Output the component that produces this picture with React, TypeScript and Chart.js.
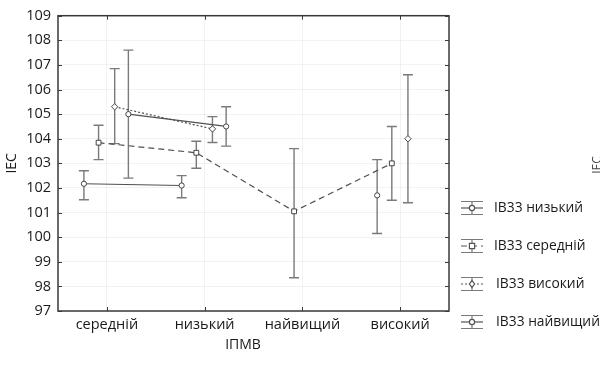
import React, { useEffect, useRef } from "react";
import { Chart, registerables } from "chart.js";

Chart.register(...registerables);

const categories = ["середній", "низький", "найвищий", "високий"];
const seriesNames = ["IB33 низький", "IB33 середній", "IB33 високий", "IB33 найвищий"];

const meanLow = [102.17, 102.1, null, 101.7];
const meanMid = [103.84, 103.43, 101.05, 103.0];
const meanHigh = [105.3, 104.4, null, 104.0];
const meanTop = [105.0, 104.5, null, null];

const lowLow = [101.52, 101.6, null, 100.15];
const lowMid = [103.15, 102.8, 98.35, 101.5];
const lowHigh = [103.8, 103.85, null, 101.4];
const lowTop = [102.4, 103.7, null, null];

const highLow = [102.7, 102.5, null, 103.15];
const highMid = [104.55, 103.9, 103.6, 104.5];
const highHigh = [106.85, 104.9, null, 106.6];
const highTop = [107.6, 105.3, null, null];

const yTicks = [97, 98, 99, 100, 101, 102, 103, 104, 105, 106, 107, 108, 109];
const xTitle = "IПМВ";
const yTitle = "IEC";

const means = [meanLow, meanMid, meanHigh, meanTop];
const lows = [lowLow, lowMid, lowHigh, lowTop];
const highs = [highLow, highMid, highHigh, highTop];

const OFFSETS = [-0.235, -0.085, 0.08, 0.22];
const DASHES: number[][] = [[], [6, 4], [2, 2], []];
const POINT_STYLES = ["circle", "rect", "rectRot", "circle"];
const POINT_RADII = [2.6, 3.4, 3.2, 2.6];
const FONT = '"Open Sans", sans-serif';

const errorBarPlugin = {
  id: "errorBars",
  beforeDatasetsDraw(chart: any) {
    const { ctx, scales } = chart;
    const xs = scales.x, ys = scales.y;
    ctx.save();
    ctx.strokeStyle = "#7a7a7a";
    ctx.lineWidth = 1.4;
    means.forEach((m, si) => {
      m.forEach((v, i) => {
        if (v == null) return;
        const lo = lows[si][i], hi = highs[si][i];
        if (lo == null || hi == null) return;
        const px = xs.getPixelForValue(i + OFFSETS[si]);
        const pLo = ys.getPixelForValue(lo);
        const pHi = ys.getPixelForValue(hi);
        ctx.beginPath();
        ctx.moveTo(px, pLo);
        ctx.lineTo(px, pHi);
        ctx.moveTo(px - 5, pLo);
        ctx.lineTo(px + 5, pLo);
        ctx.moveTo(px - 5, pHi);
        ctx.lineTo(px + 5, pHi);
        ctx.stroke();
      });
    });
    ctx.restore();
  },
};

const framePlugin = {
  id: "frame",
  afterDraw(chart: any) {
    const { ctx, chartArea: a, scales } = chart;
    ctx.save();
    ctx.strokeStyle = "#3a3a3a";
    ctx.lineWidth = 1.5;
    ctx.strokeRect(a.left, a.top, a.right - a.left, a.bottom - a.top);
    ctx.lineWidth = 1;
    ctx.beginPath();
    yTicks.forEach((t) => {
      const py = Math.round(scales.y.getPixelForValue(t)) + 0.5;
      ctx.moveTo(a.left, py);
      ctx.lineTo(a.left + 4, py);
      ctx.moveTo(a.right, py);
      ctx.lineTo(a.right - 4, py);
    });
    categories.forEach((_, i) => {
      const px = Math.round(scales.x.getPixelForValue(i)) + 0.5;
      ctx.moveTo(px, a.bottom);
      ctx.lineTo(px, a.bottom - 4);
      ctx.moveTo(px, a.top);
      ctx.lineTo(px, a.top + 4);
    });
    ctx.stroke();

    ctx.fillStyle = "#1a1a1a";
    ctx.font = `14px ${FONT}`;
    ctx.textAlign = "center";
    ctx.textBaseline = "middle";
    ctx.fillText(xTitle, 243, 345);
    ctx.save();
    ctx.translate(12, (a.top + a.bottom) / 2);
    ctx.rotate(-Math.PI / 2);
    ctx.fillText(yTitle, 0, 0);
    ctx.restore();

    ctx.save();
    ctx.fillStyle = "#444";
    ctx.font = `12px ${FONT}`;
    ctx.translate(601, 165);
    ctx.rotate(-Math.PI / 2);
    ctx.textBaseline = "alphabetic";
    ctx.fillText(yTitle, 0, 0);
    ctx.restore();

    seriesNames.forEach((name, si) => {
      const cy = 208 + si * 38;
      const x0 = 461, x1 = 483, cx = 472;
      ctx.strokeStyle = "#7a7a7a";
      ctx.lineWidth = 1.2;
      ctx.setLineDash([]);
      ctx.beginPath();
      ctx.moveTo(x0, cy - 6.5);
      ctx.lineTo(x1, cy - 6.5);
      ctx.moveTo(x0, cy + 6.5);
      ctx.lineTo(x1, cy + 6.5);
      ctx.moveTo(cx, cy - 6.5);
      ctx.lineTo(cx, cy + 6.5);
      ctx.stroke();
      ctx.strokeStyle = "#555";
      ctx.setLineDash(DASHES[si]);
      ctx.beginPath();
      ctx.moveTo(x0, cy);
      ctx.lineTo(x1, cy);
      ctx.stroke();
      ctx.setLineDash([]);
      ctx.fillStyle = "#fff";
      ctx.strokeStyle = "#555";
      ctx.beginPath();
      const r = 2.6;
      if (POINT_STYLES[si] === "rect") {
        ctx.rect(cx - r, cy - r, 2 * r, 2 * r);
      } else if (POINT_STYLES[si] === "rectRot") {
        ctx.moveTo(cx, cy - r - 0.8);
        ctx.lineTo(cx + r, cy);
        ctx.lineTo(cx, cy + r + 0.8);
        ctx.lineTo(cx - r, cy);
        ctx.closePath();
      } else {
        ctx.arc(cx, cy, r, 0, Math.PI * 2);
      }
      ctx.fill();
      ctx.stroke();
      ctx.fillStyle = "#1a1a1a";
      ctx.font = `13.8px ${FONT}`;
      ctx.textAlign = "left";
      ctx.textBaseline = "middle";
      ctx.fillText(name, si < 2 ? 494 : 496, cy);
    });
    ctx.restore();
  },
};

export default function App() {
  const ref = useRef<HTMLCanvasElement | null>(null);
  useEffect(() => {
    document.body.style.margin = "0";
    const canvas = ref.current;
    if (!canvas) return;
    const chart = new Chart(canvas, {
      type: "line",
      data: {
        datasets: means.map((m, si) => ({
          label: seriesNames[si],
          data: categories.map((_, i) => ({ x: i + OFFSETS[si], y: m[i] as any })),
          borderColor: "#505050",
          borderWidth: 1.2,
          borderDash: DASHES[si],
          pointStyle: POINT_STYLES[si] as any,
          pointRadius: POINT_RADII[si],
          pointBackgroundColor: "#fff",
          pointBorderColor: "#444",
          pointBorderWidth: 1,
          spanGaps: false,
          fill: false,
        })),
      },
      options: {
        responsive: false,
        animation: false,
        events: [],
        layout: { padding: { top: 14, right: 151, left: 0, bottom: 0 } },
        plugins: { legend: { display: false }, tooltip: { enabled: false } },
        scales: {
          x: {
            type: "linear",
            min: -0.5,
            max: 3.5,
            afterBuildTicks: (s: any) => {
              s.ticks = categories.map((_, i) => ({ value: i }));
            },
            afterFit: (s: any) => {
              s.height = 58;
            },
            ticks: {
              autoSkip: false,
              maxRotation: 0,
              padding: 5,
              color: "#1a1a1a",
              font: { family: FONT, size: 14.5 },
              callback: (v: any) => categories[v as number] ?? "",
            },
            grid: { color: "rgba(0,0,0,0.05)", drawTicks: false },
            border: { display: false },
          },
          y: {
            min: 97,
            max: 109,
            afterBuildTicks: (s: any) => {
              s.ticks = yTicks.map((v) => ({ value: v }));
            },
            afterFit: (s: any) => {
              s.width = 58;
            },
            ticks: {
              padding: 7,
              color: "#1a1a1a",
              font: { family: FONT, size: 14.5 },
            },
            grid: { color: "rgba(0,0,0,0.05)", drawTicks: false },
            border: { display: false },
          },
        },
      },
      plugins: [errorBarPlugin, framePlugin],
    });
    return () => chart.destroy();
  }, []);
  return (
    <div style={{ width: 600, height: 369, background: "#fff" }}>
      <canvas ref={ref} width={600} height={369} style={{ display: "block" }} />
    </div>
  );
}
